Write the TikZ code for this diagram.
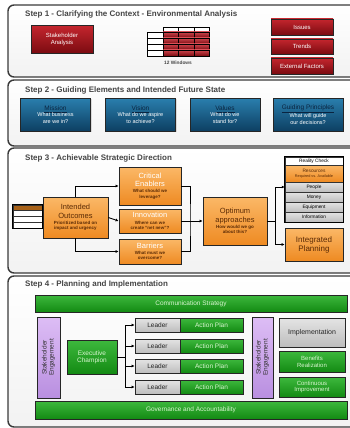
\documentclass[tikz,border=0pt]{standalone}
\usepackage{fontspec}
\setmainfont{Liberation Sans}
\usetikzlibrary{arrows.meta,shadows}

\newcommand\fsz[2]{\fontsize{#1}{#2}\selectfont}
\newcommand\subl[1]{{\fsz{4.5}{5}\bfseries #1}}
\newcommand\wht[1]{\textcolor{white}{#1}}
\newcommand\btitle[1]{{\color{navytext}\fsz{6.5}{7}\underline{#1}}}

\definecolor{framegrey}{HTML}{3A3A3A}
\definecolor{titlegrey}{HTML}{454545}
\definecolor{redtop}{HTML}{C4262E}
\definecolor{redbot}{HTML}{7A0A10}
\definecolor{bluetop}{HTML}{2A7FAE}
\definecolor{bluebot}{HTML}{0D3F62}
\definecolor{navytext}{HTML}{0A2440}
\definecolor{orangetop}{HTML}{FBB867}
\definecolor{orangebot}{HTML}{EE8A22}
\definecolor{browntext}{HTML}{5A2A05}
\definecolor{greentop}{HTML}{3DB83D}
\definecolor{greenbot}{HTML}{138A13}
\definecolor{greentext}{HTML}{D8F5D0}
\definecolor{greytop}{HTML}{E4E4E4}
\definecolor{greybot}{HTML}{BDBDBD}
\definecolor{purpletop}{HTML}{DDBDF5}
\definecolor{purplebot}{HTML}{B98FE0}

\tikzset{
  panel/.style={draw=framegrey, line width=1.4pt, rounded corners=6pt,
    top color=white, bottom color=gray!10},
  steptitle/.style={anchor=west, inner sep=0pt, text=titlegrey,
    font=\bfseries\fsz{8}{9}},
  box/.style={draw=black!85, line width=0.7pt, inner sep=1pt, align=center,
    drop shadow={opacity=0.25, shadow xshift=1pt, shadow yshift=-1pt}},
  redbox/.style={box, top color=redtop, bottom color=redbot, text=white,
    font=\fsz{6}{7}},
  bluebox/.style={box, top color=bluetop, bottom color=bluebot, text=white,
    minimum width=70, minimum height=33, font=\fsz{5.5}{6.3}},
  orangebox/.style={box, top color=orangetop, bottom color=orangebot,
    text=browntext, font=\fsz{7.5}{8.3}},
  greenbox/.style={box, top color=greentop, bottom color=greenbot,
    text=greentext, font=\fsz{6.5}{7.3}},
  greybox/.style={box, top color=greytop, bottom color=greybot,
    text=black!85, font=\fsz{6.5}{7.3}},
  purplebox/.style={box, rotate=90, top color=purpletop, bottom color=purplebot,
    text=black!80, font=\fsz{6.5}{7}},
  tabcell/.style={draw=black, line width=0.6pt, inner sep=0pt,
    minimum width=15.5, minimum height=6},
  stackrow/.style={draw=black!80, line width=0.5pt, inner sep=0pt,
    minimum width=58, align=center, font=\fsz{4.8}{5.3}},
  link/.style={draw=black, line width=0.9pt},
  >={Latex[length=3pt,width=3pt]}
}

\begin{document}
\begin{tikzpicture}[x=1pt, y=-1pt]
  \useasboundingbox (0,0) rectangle (350,428);
  \clip (0,0) rectangle (350,428);

  % step 1
  \draw[panel] (8,5) rectangle (362,77);
  \node[steptitle] (t1) at (25,14) {Step 1 - Clarifying the Context - Environmental Analysis};
  \node[redbox, minimum width=62, minimum height=28] (sa) at (62,39.5) {Stakeholder\\Analysis};
  \foreach \c in {1,2,3}
    \node[tabcell, fill=white, minimum height=5] (head\c) at (155.5+15.5*\c,29.5) {};
  \foreach \r in {1,...,4}{
    \node[tabcell, fill=white, minimum width=16] (lab\r) at (155,29+6*\r) {};
    \foreach \c in {1,2,3}
      \node[tabcell, top color=redtop!85, bottom color=redbot] (win\r\c) at (155.5+15.5*\c,29+6*\r) {};
  }
  \node[font=\bfseries\fsz{4.8}{5}, text=titlegrey] (tw) at (178,63) {12 Windows};
  \node[redbox, minimum width=62, minimum height=16] (iss) at (302,27) {Issues};
  \node[redbox, minimum width=62, minimum height=15] (tre) at (302,46.5) {Trends};
  \node[redbox, minimum width=62, minimum height=16] (ext) at (302,66) {External Factors};

  % step 2
  \draw[panel] (8,80) rectangle (362,146);
  \node[steptitle] (t2) at (25,90) {Step 2 - Guiding Elements and Intended Future State};
  \node[bluebox] (mis) at (55.5,114.5) {\btitle{Mission}\\What business\\are we in?};
  \node[bluebox] (vis) at (140.5,114.5) {\btitle{Vision}\\What do we aspire\\to achieve?};
  \node[bluebox] (val) at (225,114.5) {\btitle{Values}\\What do we\\stand for?};
  \node[bluebox] (gui) at (308,114.5) {\btitle{Guiding Principles}\\What will guide\\our decisions?};

  % step 3
  \draw[panel] (8,148) rectangle (362,273);
  \node[steptitle] (t3) at (25,158) {Step 3 - Achievable Strategic Direction};
  \node[stackrow, minimum width=29, minimum height=5.75, fill=orangebot!70!black] (leg1) at (27.5,207.9) {};
  \node[stackrow, minimum width=29, minimum height=5.75, fill=white] (leg2) at (27.5,213.6) {};
  \node[stackrow, minimum width=29, minimum height=5.75, fill=white] (leg3) at (27.5,219.4) {};
  \node[stackrow, minimum width=29, minimum height=5.75, fill=white] (leg4) at (27.5,225.1) {};
  \draw[line width=1pt] (leg1.north west) rectangle (leg4.south east);
  \node[orangebox, minimum width=65, minimum height=41] (io) at (75.5,217.5)
    {Intended\\Outcomes\\[-2pt]\subl{Prioritized based on}\\[-3pt]\subl{impact and urgency}};
  \node[orangebox, minimum width=62, minimum height=38] (ce) at (150,186)
    {\wht{Critical}\\\wht{Enablers}\\[-2pt]\subl{What should we}\\[-3pt]\subl{leverage?}};
  \node[orangebox, minimum width=62, minimum height=24] (inn) at (150,221)
    {\wht{Innovation}\\[-2pt]\subl{Where can we}\\[-3pt]\subl{create ``net new''?}};
  \node[orangebox, minimum width=62, minimum height=25] (bar) at (150,251.5)
    {\wht{Barriers}\\[-2pt]\subl{What must we}\\[-3pt]\subl{overcome?}};
  \node[orangebox, minimum width=64, minimum height=48] (opt) at (235,221)
    {Optimum\\approaches\\[-2pt]\subl{How would we go}\\[-3pt]\subl{about this?}};
  \node[stackrow, minimum height=8, fill=white] (rc) at (314,161) {Reality Check};
  \node[stackrow, minimum height=17, top color=orangetop, bottom color=orangebot, text=browntext] (res) at (314,173.5)
    {Resources\\{\fsz{3.8}{4.2}Required vs. Available}};
  \node[stackrow, minimum height=10, top color=greytop, bottom color=greybot] (peo) at (314,187) {People};
  \node[stackrow, minimum height=10, top color=greytop, bottom color=greybot] (mon) at (314,197) {Money};
  \node[stackrow, minimum height=10, top color=greytop, bottom color=greybot] (equ) at (314,207) {Equipment};
  \node[stackrow, minimum height=10, top color=greytop, bottom color=greybot] (inf) at (314,217) {Information};
  \draw[line width=1pt] (rc.north west) rectangle (inf.south east);
  \node[orangebox, minimum width=58, minimum height=33, font=\fsz{8}{9}] (ip) at (314,244.5) {Integrated\\Planning};

  \draw[link,->] (io.north) |- (ce.west);
  \draw[link,->] (io.east) -- (inn.west);
  \draw[link,->] (io.south) |- (bar.west);
  \coordinate (jl) at (190,221);
  \draw[link] (ce.east) -| (jl) |- (bar.east);
  \draw[link,->] (inn.east) -- (opt.west);
  \coordinate (jr) at (275,221);
  \draw[link] (opt.east) -- (jr);
  \draw[link,->] (jr) |- (peo.west);
  \draw[link,->] (jr) |- (ip.west);

  % step 4
  \draw[panel] (8,276) rectangle (362,427);
  \node[steptitle] (t4) at (25,284) {Step 4 - Planning and Implementation};
  \node[greenbox, minimum width=312, minimum height=17] (com) at (191,303.5) {Communication Strategy};
  \node[greenbox, minimum width=312, minimum height=18] (gov) at (191,410) {Governance and Accountability};
  \node[purplebox, minimum width=81, minimum height=23] (sel) at (48.5,357.5) {Stakeholder\\Engagement};
  \node[greenbox, minimum width=50, minimum height=34] (exe) at (92,357) {Executive\\Champion};
  \foreach \i/\y in {1/325,2/346,3/366,4/387}{
    \node[greybox, minimum width=45, minimum height=14] (lead\i) at (157.5,\y) {Leader};
    \node[greenbox, minimum width=63, minimum height=14] (plan\i) at (211.5,\y) {Action Plan};
  }
  \coordinate (jx) at (125,357);
  \draw[link] (exe.east) -- (jx);
  \foreach \i in {1,...,4}
    \draw[link,->] (jx) |- (lead\i.west);
  \node[purplebox, minimum width=81, minimum height=21] (ser) at (262.5,357.5) {Stakeholder\\Engagement};
  \node[greybox, minimum width=66, minimum height=29, font=\fsz{7}{8}] (imp) at (312,332.5) {Implementation};
  \node[greenbox, minimum width=66, minimum height=21, font=\fsz{6}{6.8}] (ben) at (312,361.5) {Benefits\\Realization};
  \node[greenbox, minimum width=66, minimum height=20, font=\fsz{6}{6.8}] (ci) at (312,387) {Continuous\\Improvement};
\end{tikzpicture}
\end{document}
